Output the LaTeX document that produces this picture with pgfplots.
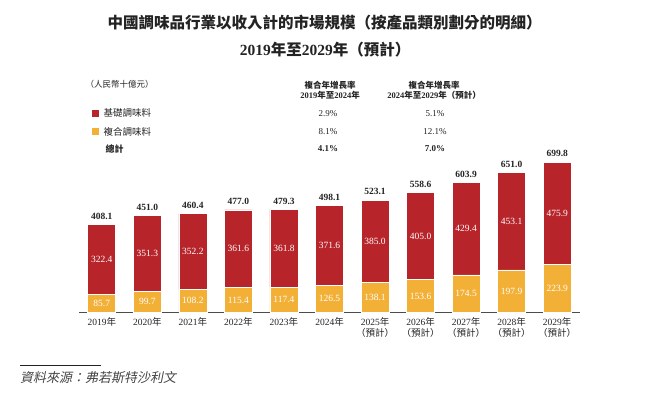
\documentclass[border=0pt]{standalone}
\usepackage{pgfplots}
\pgfplotsset{compat=1.18}
\usepackage{pgfplotstable}
\usepackage{fontspec}
\setmainfont{Liberation Serif}
\newfontfamily\cjk{Noto Sans CJK TC}
\newfontfamily\cjkit[FakeSlant=0.2]{Noto Sans CJK TC}
\definecolor{cred}{RGB}{183,36,42}
\definecolor{cyel}{RGB}{242,176,55}
\definecolor{txt}{RGB}{35,35,35}

\pgfplotstableread{
x yel red tot
0 85.7 322.4 408.1
1 99.7 351.3 451.0
2 108.2 352.2 460.4
3 115.4 361.6 477.0
4 117.4 361.8 479.3
5 126.5 371.6 498.1
6 138.1 385.0 523.1
7 153.6 405.0 558.6
8 174.5 429.4 603.9
9 197.9 453.1 651.0
10 223.9 475.9 699.8
}\data

\begin{document}
\begin{tikzpicture}
\useasboundingbox (0,0) rectangle (645pt,394pt);
% titles
\node[font=\cjk\bfseries\fontsize{15.5}{18}\selectfont, text=txt] at (324.5pt,371.3pt) {中國調味品行業以收入計的市場規模（按產品類別劃分的明細）};
\node[font=\bfseries\fontsize{15.5}{18}\selectfont, text=txt] at (325pt,344pt) {2019{\cjk 年至}2029{\cjk 年（預計）}};
% header table
\node[anchor=west, font=\cjk\fontsize{8.5}{10}\selectfont, text=txt] at (82pt,310pt) {（人民幣十億元）};
\node[font=\fontsize{8.5}{10}\selectfont\bfseries, text=txt, align=center] at (330pt,304pt) {{\cjk 複合年增長率}\\[0pt]2019{\cjk 年至}2024{\cjk 年}};
\node[font=\fontsize{8.5}{10}\selectfont\bfseries, text=txt, align=center] at (434pt,304pt) {{\cjk 複合年增長率}\\[0pt]2024{\cjk 年至}2029{\cjk 年（預計）}};
\node[fill=cred, minimum size=7pt, inner sep=0pt] at (95.5pt,280.7pt) {};
\node[fill=cyel, minimum size=7pt, inner sep=0pt] at (95.5pt,262.3pt) {};
\node[anchor=west, font=\cjk\fontsize{9.5}{10}\selectfont, text=txt] at (100pt,280.7pt) {基礎調味料};
\node[anchor=west, font=\cjk\fontsize{9.5}{10}\selectfont, text=txt] at (100pt,262.3pt) {複合調味料};
\node[anchor=west, font=\cjk\bfseries\fontsize{9}{10}\selectfont, text=txt] at (102pt,245pt) {總計};
\node[font=\fontsize{9}{10}\selectfont, text=txt] at (328pt,280.7pt) {2.9\%};
\node[font=\fontsize{9}{10}\selectfont, text=txt] at (435pt,280.7pt) {5.1\%};
\node[font=\fontsize{9}{10}\selectfont, text=txt] at (328pt,262.3pt) {8.1\%};
\node[font=\fontsize{9}{10}\selectfont, text=txt] at (435pt,262.3pt) {12.1\%};
\node[font=\bfseries\fontsize{9}{10}\selectfont, text=txt] at (328pt,245pt) {4.1\%};
\node[font=\bfseries\fontsize{9}{10}\selectfont, text=txt] at (435pt,245pt) {7.0\%};
% source
\draw[line width=0.8pt, txt] (20pt,29pt) -- (101pt,29pt);
\node[anchor=west, inner sep=0pt, font=\cjkit\fontsize{13}{15}\selectfont, text=txt!85] at (20pt,16.3pt) {資料來源：弗若斯特沙利文};

% bars
\begin{axis}[
  at={(79pt,81.5pt)}, anchor=south west,
  scale only axis, width=501pt, height=150.5pt,
  xmin=-0.5, xmax=10.5, ymin=0, ymax=700,
  ybar stacked, bar width=28pt,
  axis x line=bottom, axis y line=none,
  x axis line style={-, draw=black!70, line width=0.9pt},
  major tick length=0pt,
  xtick={0,...,10},
  xticklabels={2019{\cjk 年},2020{\cjk 年},2021{\cjk 年},2022{\cjk 年},2023{\cjk 年},2024{\cjk 年},
    2025{\cjk 年}\\{\cjk（預計）},2026{\cjk 年}\\{\cjk（預計）},2027{\cjk 年}\\{\cjk（預計）},
    2028{\cjk 年}\\{\cjk（預計）},2029{\cjk 年}\\{\cjk（預計）}},
  xticklabel style={align=center, font=\fontsize{9.5}{11}\selectfont, text=txt, anchor=north, yshift=-1pt},
  ytick=\empty,
  clip=false,
]
\addplot[fill=cyel, draw=white, line width=0.7pt] table[x=x, y=yel] {\data};
\addplot[fill=cred, draw=white, line width=0.7pt] table[x=x, y=red] {\data};
\end{axis}

% labels overlay
\begin{axis}[
  at={(79pt,81.5pt)}, anchor=south west,
  scale only axis, width=501pt, height=150.5pt,
  xmin=-0.5, xmax=10.5, ymin=0, ymax=700,
  axis lines=none, clip=false,
]
\addplot[draw=none, mark=none, nodes near coords, point meta=explicit symbolic,
  every node near coord/.style={anchor=center, text=white, font=\fontsize{9.5}{11}\selectfont}]
  table[x=x, y expr=\thisrow{yel}/2, meta=yel] {\data};
\addplot[draw=none, mark=none, nodes near coords, point meta=explicit symbolic,
  every node near coord/.style={anchor=center, text=white, font=\fontsize{9.5}{11}\selectfont}]
  table[x=x, y expr=\thisrow{yel}+\thisrow{red}/2, meta=red] {\data};
\addplot[draw=none, mark=none, nodes near coords, point meta=explicit symbolic,
  every node near coord/.style={anchor=south, inner sep=0pt, yshift=5pt, text=txt, font=\bfseries\fontsize{9.5}{11}\selectfont}]
  table[x=x, y=tot, meta=tot] {\data};
\end{axis}
\end{tikzpicture}
\end{document}
